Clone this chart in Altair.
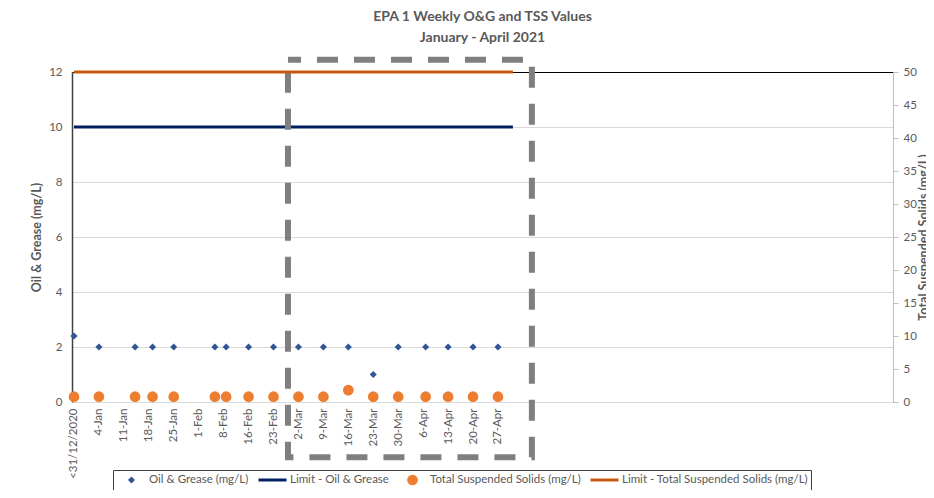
import json
import altair as alt
import pandas as pd

# ---------------- data ----------------
title_lines = ["EPA 1 Weekly O&G and TSS Values", "January - April 2021"]
x_labels = ["<31/12/2020", "4-Jan", "11-Jan", "18-Jan", "25-Jan", "1-Feb", "8-Feb",
            "16-Feb", "23-Feb", "2-Mar", "9-Mar", "16-Mar", "23-Mar", "30-Mar",
            "6-Apr", "13-Apr", "20-Apr", "27-Apr"]
label_pos = list(range(len(x_labels)))
sample_pos = [0, 1, 2.45, 3.15, 4, 5.65, 6.1, 7, 8, 9, 10, 11, 12, 13, 14.1, 15, 16, 17]
og_values = [2.4, 2, 2, 2, 2, 2, 2, 2, 2, 2, 2, 2, 1, 2, 2, 2, 2, 2]
tss_values = [0.8, 0.8, 0.8, 0.8, 0.8, 0.8, 0.8, 0.8, 0.8, 0.8, 0.8, 1.8, 0.8, 0.8, 0.8, 0.8, 0.8, 0.8]
og_limit = 10
tss_limit = 50
limit_span = [0, 17.6]
box_x = [8.58, 18.36]
box_y = [12.45, -2.01]

series_names = ["Oil & Grease (mg/L)", "Limit - Oil & Grease",
                "Total Suspended Solids (mg/L)", "Limit - Total Suspended Solids (mg/L)"]
series_colors = ["#2F5597", "#002060", "#ED7D31", "#C55A11"]
series_shapes = ["diamond", "stroke", "circle", "stroke"]
series_sizes = [50, 784, 115, 784]
series_strokes = [0, 3, 0, 3]

x_domain = [-0.08, 32.84]
og_axis_values = [0, 2, 4, 6, 8, 10, 12]
tss_axis_values = [0, 5, 10, 15, 20, 25, 30, 35, 40, 45, 50]

# ---------------- tables ----------------
og_df = pd.DataFrame({"pos": sample_pos, "value": og_values, "series": series_names[0]})
tss_df = pd.DataFrame({"pos": sample_pos, "value": tss_values, "series": series_names[2]})
og_lim_df = pd.DataFrame({"pos": limit_span, "value": [og_limit] * 2})
tss_lim_df = pd.DataFrame({"pos": limit_span, "value": [tss_limit] * 2})
box_df = pd.DataFrame({"x1": [box_x[0]], "x2": [box_x[1]], "y1": [box_y[0]], "y2": [box_y[1]]})

FONT = "Lato"
TXT = "#595959"

x_scale = alt.Scale(domain=x_domain, nice=False, zero=False)
og_scale = alt.Scale(domain=[0, 12], nice=False, zero=True)
tss_scale = alt.Scale(domain=[0, 50], nice=False, zero=True)

x_axis = alt.Axis(values=label_pos,
                  labelExpr=json.dumps(x_labels) + "[datum.value]",
                  labelAngle=270, labelAlign="right", labelBaseline="middle",
                  labelPadding=6, labelFont=FONT, labelFontSize=11.5, labelColor=TXT,
                  ticks=False, grid=False, domainColor="#d9d9d9", title=None,
                  labelOverlap=False)

legend = alt.Legend(
    title=None, orient="none", legendX=41, legendY=398, direction="horizontal",
    columns=4, labelFont=FONT, labelFontSize=11.5, labelColor=TXT, labelLimit=400,
    strokeColor="#404040", fillColor="#ffffff", padding=3, columnPadding=8,
    gridAlign="none", clipHeight=14,
    labelOffset=2, symbolOffset=0, symbolOpacity=1,
)


def series_enc():
    return dict(
        color=alt.Color("series:N", scale=alt.Scale(domain=series_names, range=series_colors), legend=legend),
        stroke=alt.Stroke("series:N", scale=alt.Scale(domain=series_names, range=series_colors), legend=legend),
        shape=alt.Shape("series:N", scale=alt.Scale(domain=series_names, range=series_shapes), legend=legend),
        size=alt.Size("series:N", scale=alt.Scale(type="ordinal", domain=series_names, range=series_sizes), legend=legend),
        strokeWidth=alt.StrokeWidth("series:N", scale=alt.Scale(type="ordinal", domain=series_names, range=series_strokes), legend=legend),
    )


og_axis = alt.Axis(orient="left", values=og_axis_values, title="Oil & Grease (mg/L)",
                   titleFont=FONT, titleFontSize=12.5, titleFontWeight="bold", titleColor=TXT,
                   titlePadding=5, labelFont=FONT, labelFontSize=11.5, labelColor=TXT,
                   labelPadding=10, ticks=False, domainColor="#404040", domainWidth=1.5,
                   grid=True, labelOverlap=False,
                   gridColor={"condition": {"test": "datum.value === 12", "value": "#000000"},
                              "value": "#d9d9d9"})

tss_axis = alt.Axis(orient="right", values=tss_axis_values, title="Total Suspended Solids (mg/L)",
                    titleFont=FONT, titleFontSize=12.5, titleFontWeight="bold", titleColor=TXT,
                    titleAngle=270, titlePadding=14, labelFont=FONT, labelFontSize=11.5,
                    labelColor=TXT, labelPadding=5, ticks=True, tickSize=5, tickColor="#bfbfbf",
                    domainColor="#bfbfbf", grid=False, labelOverlap=False)

# ---------------- right (TSS) group ----------------
tss_line = alt.Chart(tss_lim_df).mark_line(strokeWidth=3, color=series_colors[3]).encode(
    x=alt.X("pos:Q", scale=x_scale, axis=x_axis),
    y=alt.Y("value:Q", scale=tss_scale, axis=tss_axis),
)
tss_points = alt.Chart(tss_df).mark_point(filled=True, opacity=1).encode(
    x=alt.X("pos:Q", scale=x_scale, axis=x_axis),
    y=alt.Y("value:Q", scale=tss_scale, axis=tss_axis),
    **series_enc(),
)
tss_group = alt.layer(tss_line, tss_points)

# ---------------- left (O&G) group ----------------
og_line = alt.Chart(og_lim_df).mark_line(strokeWidth=3, color=series_colors[1]).encode(
    x=alt.X("pos:Q", scale=x_scale, axis=x_axis),
    y=alt.Y("value:Q", scale=og_scale, axis=og_axis),
)
og_points = alt.Chart(og_df).mark_point(filled=True, opacity=1).encode(
    x=alt.X("pos:Q", scale=x_scale, axis=x_axis),
    y=alt.Y("value:Q", scale=og_scale, axis=og_axis),
    **series_enc(),
)
box = alt.Chart(box_df).mark_rect(fillOpacity=0, stroke="#7f7f7f", strokeWidth=6,
                                  strokeDash=[21, 16], strokeDashOffset=8).encode(
    x=alt.X("x1:Q", scale=x_scale, axis=x_axis),
    x2="x2:Q",
    y=alt.Y("y1:Q", scale=og_scale, axis=og_axis),
    y2="y2:Q",
)
og_group = alt.layer(og_line, og_points, box)

chart = alt.layer(og_group, tss_group).resolve_scale(y="independent").properties(
    width=821, height=330,
    padding={"left": 64, "top": 64, "right": 33, "bottom": 88},
    autosize=alt.AutoSizeParams(type="none"),
    title=alt.TitleParams(text=title_lines, font=FONT, fontSize=14, fontWeight="bold",
                          color=TXT, anchor="middle", frame="group", lineHeight=21, offset=12),
).configure_view(stroke=None).configure(background="#ffffff")

chart.save("out.html", embed_options={"renderer": "svg", "actions": False})
